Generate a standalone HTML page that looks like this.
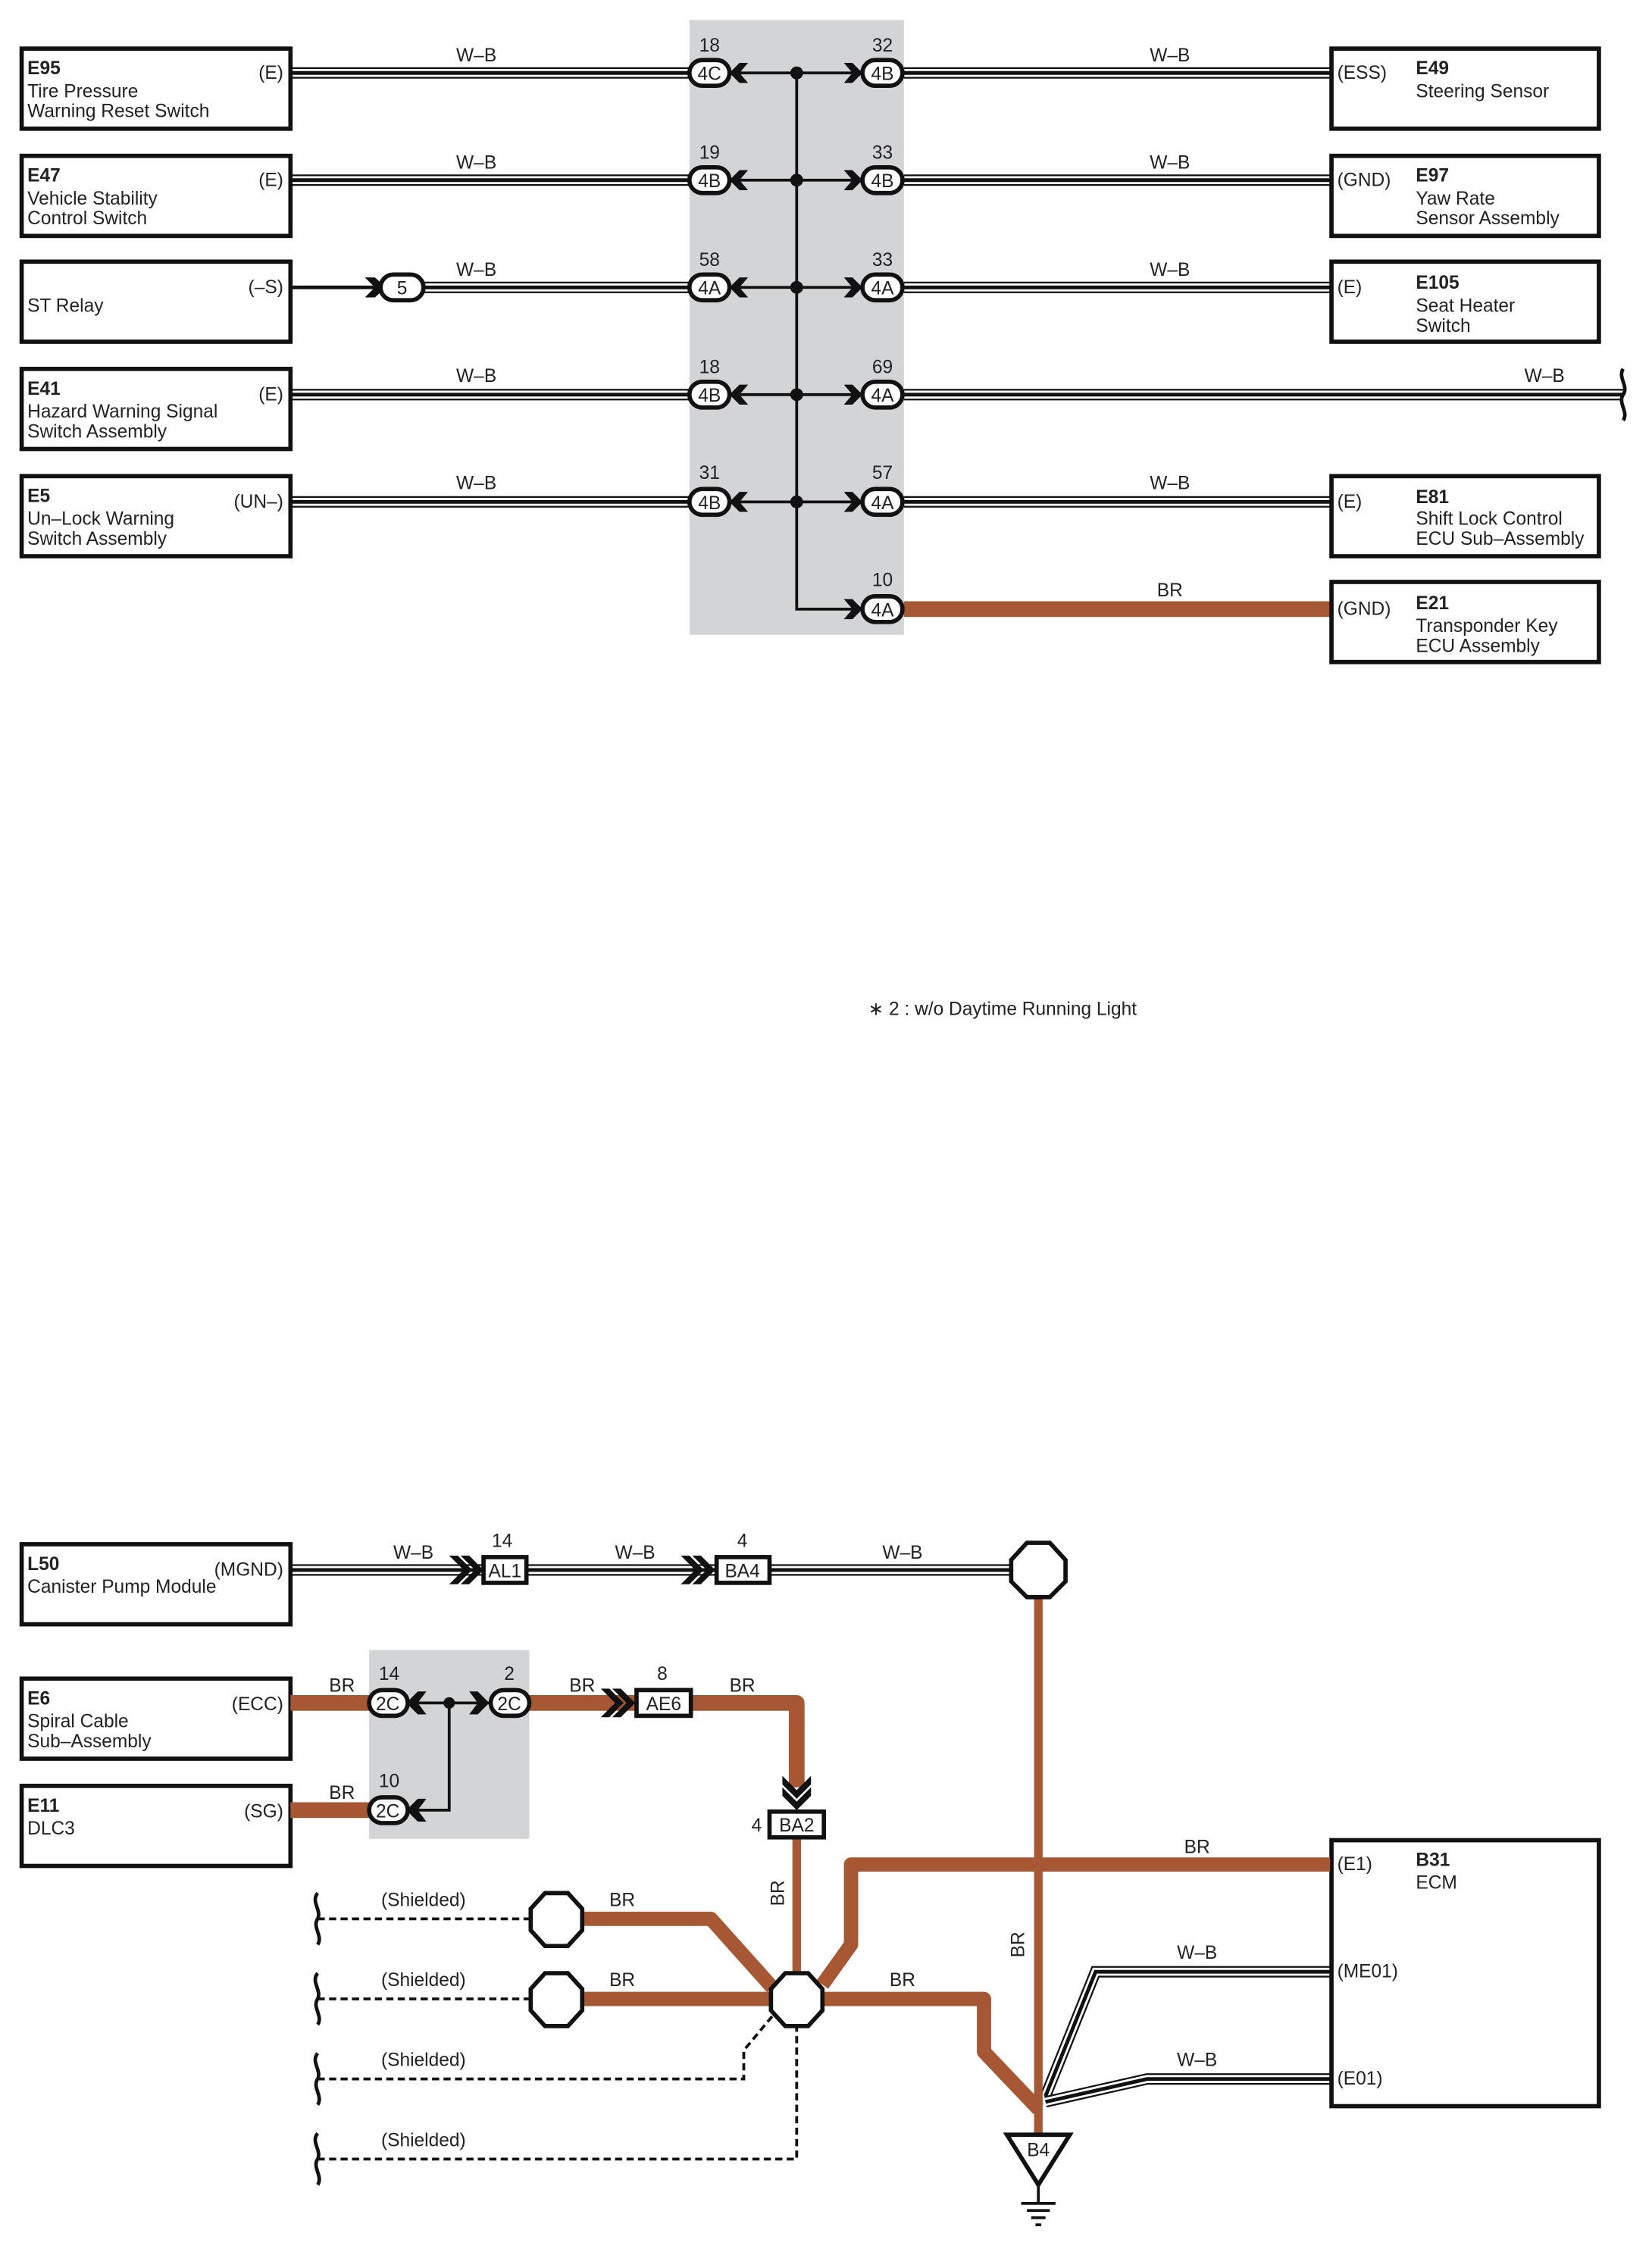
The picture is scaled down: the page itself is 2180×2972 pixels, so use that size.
<!DOCTYPE html>
<html><head><meta charset="utf-8"><style>
html,body{margin:0;padding:0;background:#fff}
svg{display:block}
text{font-family:"Liberation Sans",sans-serif;font-size:13px;fill:#222}
.b{font-weight:bold}
.o{stroke:#111;stroke-width:8;fill:none}
.w{stroke:#fff;stroke-width:5.6;fill:none}
.i{stroke:#111;stroke-width:2.6;fill:none}
.br{stroke:#a65835;fill:none;stroke-linejoin:round}
.box{fill:#fff;stroke:#111;stroke-width:3}
.ov{fill:#fff;stroke:#111;stroke-width:3}
.dash{stroke:#111;stroke-width:2;fill:none;stroke-dasharray:5 3}
</style></head><body>
<svg width="2180" height="2972" viewBox="0 0 1155 1575" xmlns="http://www.w3.org/2000/svg">
<defs>
<path id="t1" d="M203 51H484M632 51H930"/>
<path id="t2" d="M203 126H484M632 126H930"/>
<path id="t3" d="M296 201H484M632 201H930"/>
<path id="t4" d="M203 276H484M632 276H1135"/>
<path id="t5" d="M203 351H484M632 351H930"/>
<path id="b1" d="M203 1098H712"/>
<path id="b2" d="M930 1379H766L731 1466"/>
<path id="b3" d="M930 1454H802L731 1470"/>
</defs>
<rect x="482" y="14" width="150" height="430" fill="#d3d4d6"/>
<rect x="258" y="1154" width="112" height="132" fill="#d3d4d6"/>

<g>
<use href="#t1" class="o"/><use href="#t1" class="w"/><use href="#t1" class="i"/>
<use href="#t2" class="o"/><use href="#t2" class="w"/><use href="#t2" class="i"/>
<use href="#t3" class="o"/><use href="#t3" class="w"/><use href="#t3" class="i"/>
<use href="#t4" class="o"/><use href="#t4" class="w"/><use href="#t4" class="i"/>
<use href="#t5" class="o"/><use href="#t5" class="w"/><use href="#t5" class="i"/>
</g>
<path d="M203 201H266" stroke="#111" stroke-width="2.5"/>
<polygon points="270,201 262,194 255,194 262,201 255,208 262,208" fill="#111"/>
<rect x="266" y="192" width="30" height="18" rx="9" class="ov"/><text x="281" y="206" text-anchor="middle">5</text>
<path d="M1135 258c-4 6 4 12 0 18c-4 6 4 12 0 18" stroke="#111" stroke-width="2.5" fill="none"/>

<!-- bus -->
<path d="M511 51H602M511 126H602M511 201H602M511 276H602M511 351H602M557 51V426H602" stroke="#111" stroke-width="2" fill="none"/>
<g fill="#111">
<circle cx="557" cy="51" r="4.5"/><circle cx="557" cy="126" r="4.5"/><circle cx="557" cy="201" r="4.5"/><circle cx="557" cy="276" r="4.5"/><circle cx="557" cy="351" r="4.5"/>
</g>
<g fill="#111">
<polygon points="510,51 517,44 523,44 517,51 523,58 517,58"/>
<polygon points="510,126 517,119 523,119 517,126 523,133 517,133"/>
<polygon points="510,201 517,194 523,194 517,201 523,208 517,208"/>
<polygon points="510,276 517,269 523,269 517,276 523,283 517,283"/>
<polygon points="510,351 517,344 523,344 517,351 523,358 517,358"/>
<polygon points="603,51 596,44 590,44 596,51 590,58 596,58"/>
<polygon points="603,126 596,119 590,119 596,126 590,133 596,133"/>
<polygon points="603,201 596,194 590,194 596,201 590,208 596,208"/>
<polygon points="603,276 596,269 590,269 596,276 590,283 596,283"/>
<polygon points="603,351 596,344 590,344 596,351 590,358 596,358"/>
<polygon points="603,426 596,419 590,419 596,426 590,433 596,433"/>
</g>
<path d="M632 426H930" class="br" stroke-width="11"/>
<g>
<rect x="482" y="42" width="28" height="18" rx="9" class="ov"/><text x="496" y="56" text-anchor="middle">4C</text>
<rect x="482" y="117" width="28" height="18" rx="9" class="ov"/><text x="496" y="131" text-anchor="middle">4B</text>
<rect x="482" y="192" width="28" height="18" rx="9" class="ov"/><text x="496" y="206" text-anchor="middle">4A</text>
<rect x="482" y="267" width="28" height="18" rx="9" class="ov"/><text x="496" y="281" text-anchor="middle">4B</text>
<rect x="482" y="342" width="28" height="18" rx="9" class="ov"/><text x="496" y="356" text-anchor="middle">4B</text>
<rect x="603" y="42" width="28" height="18" rx="9" class="ov"/><text x="617" y="56" text-anchor="middle">4B</text>
<rect x="603" y="117" width="28" height="18" rx="9" class="ov"/><text x="617" y="131" text-anchor="middle">4B</text>
<rect x="603" y="192" width="28" height="18" rx="9" class="ov"/><text x="617" y="206" text-anchor="middle">4A</text>
<rect x="603" y="267" width="28" height="18" rx="9" class="ov"/><text x="617" y="281" text-anchor="middle">4A</text>
<rect x="603" y="342" width="28" height="18" rx="9" class="ov"/><text x="617" y="356" text-anchor="middle">4A</text>
<rect x="603" y="417" width="28" height="18" rx="9" class="ov"/><text x="617" y="431" text-anchor="middle">4A</text>
</g>
<g text-anchor="middle">
<text x="496" y="36">18</text><text x="496" y="111">19</text><text x="496" y="186">58</text><text x="496" y="261">18</text><text x="496" y="335">31</text>
<text x="617" y="36">32</text><text x="617" y="111">33</text><text x="617" y="186">33</text><text x="617" y="261">69</text><text x="617" y="335">57</text><text x="617" y="410">10</text>
<text x="333" y="43">W–B</text><text x="333" y="118">W–B</text><text x="333" y="193">W–B</text><text x="333" y="267">W–B</text><text x="333" y="342">W–B</text>
<text x="818" y="43">W–B</text><text x="818" y="118">W–B</text><text x="818" y="193">W–B</text><text x="1080" y="267">W–B</text><text x="818" y="342">W–B</text><text x="818" y="417">BR</text>
</g>

<rect x="15" y="34" width="188" height="56" class="box"/>
<text x="19" y="52" class="b">E95</text><text x="19" y="68">Tire Pressure</text><text x="19" y="82">Warning Reset Switch</text><text x="198" y="55" text-anchor="end">(E)</text>
<rect x="15" y="109" width="188" height="56" class="box"/>
<text x="19" y="127" class="b">E47</text><text x="19" y="143">Vehicle Stability</text><text x="19" y="157">Control Switch</text><text x="198" y="130" text-anchor="end">(E)</text>
<rect x="15" y="183" width="188" height="56" class="box"/>
<text x="19" y="218">ST Relay</text><text x="198" y="205" text-anchor="end">(–S)</text>
<rect x="15" y="258" width="188" height="56" class="box"/>
<text x="19" y="276" class="b">E41</text><text x="19" y="292">Hazard Warning Signal</text><text x="19" y="306">Switch Assembly</text><text x="198" y="280" text-anchor="end">(E)</text>
<rect x="15" y="333" width="188" height="56" class="box"/>
<text x="19" y="351" class="b">E5</text><text x="19" y="367">Un–Lock Warning</text><text x="19" y="381">Switch Assembly</text><text x="198" y="355" text-anchor="end">(UN–)</text>
<rect x="931" y="34" width="187" height="56" class="box"/>
<text x="935" y="55">(ESS)</text><text x="990" y="52" class="b">E49</text><text x="990" y="68">Steering Sensor</text>
<rect x="931" y="109" width="187" height="56" class="box"/>
<text x="935" y="130">(GND)</text><text x="990" y="127" class="b">E97</text><text x="990" y="143">Yaw Rate</text><text x="990" y="157">Sensor Assembly</text>
<rect x="931" y="183" width="187" height="56" class="box"/>
<text x="935" y="205">(E)</text><text x="990" y="202" class="b">E105</text><text x="990" y="218">Seat Heater</text><text x="990" y="232">Switch</text>
<rect x="931" y="333" width="187" height="56" class="box"/>
<text x="935" y="355">(E)</text><text x="990" y="352" class="b">E81</text><text x="990" y="367">Shift Lock Control</text><text x="990" y="381">ECU Sub–Assembly</text>
<rect x="931" y="407" width="187" height="56" class="box"/>
<text x="935" y="430">(GND)</text><text x="990" y="426" class="b">E21</text><text x="990" y="442">Transponder Key</text><text x="990" y="456">ECU Assembly</text>

<text x="607" y="710">∗ 2 : w/o Daytime Running Light</text>

<use href="#b1" class="o"/><use href="#b1" class="w"/><use href="#b1" class="i"/>
<use href="#b2" class="o"/><use href="#b2" class="w"/><use href="#b2" class="i"/>
<use href="#b3" class="o"/><use href="#b3" class="w"/><use href="#b3" class="i"/>
<g fill="#111">
<polygon points="338,1098 328,1088 322,1088 332,1098 322,1108 328,1108"/>
<polygon points="330,1098 320,1088 314,1088 324,1098 314,1108 320,1108"/>
<polygon points="500,1098 490,1088 484,1088 494,1098 484,1108 490,1108"/>
<polygon points="492,1098 482,1088 476,1088 486,1098 476,1108 482,1108"/>
</g>
<rect x="338" y="1089" width="30" height="18" class="box"/><text x="353" y="1103" text-anchor="middle">AL1</text>
<rect x="501" y="1089" width="37" height="18" class="box"/><text x="519" y="1103" text-anchor="middle">BA4</text>
<text x="351" y="1082" text-anchor="middle">14</text><text x="519" y="1082" text-anchor="middle">4</text>
<text x="289" y="1090" text-anchor="middle">W–B</text><text x="444" y="1090" text-anchor="middle">W–B</text><text x="631" y="1090" text-anchor="middle">W–B</text>

<rect x="15" y="1080" width="188" height="56" class="box"/>
<text x="19" y="1098" class="b">L50</text><text x="19" y="1114">Canister Pump Module</text><text x="198" y="1102" text-anchor="end">(MGND)</text>
<rect x="15" y="1174" width="188" height="56" class="box"/>
<text x="19" y="1192" class="b">E6</text><text x="19" y="1208">Spiral Cable</text><text x="19" y="1222">Sub–Assembly</text><text x="198" y="1196" text-anchor="end">(ECC)</text>
<rect x="15" y="1249" width="188" height="56" class="box"/>
<text x="19" y="1267" class="b">E11</text><text x="19" y="1283">DLC3</text><text x="198" y="1271" text-anchor="end">(SG)</text>
<rect x="931" y="1287" width="187" height="186" class="box"/>
<text x="935" y="1308">(E1)</text><text x="990" y="1305" class="b">B31</text><text x="990" y="1321">ECM</text>
<text x="935" y="1383">(ME01)</text><text x="935" y="1458">(E01)</text>
<text x="837" y="1370" text-anchor="middle">W–B</text><text x="837" y="1445" text-anchor="middle">W–B</text>

<path d="M203 1191H258M370 1191H557V1250" class="br" stroke-width="11"/>
<path d="M203 1266H258" class="br" stroke-width="11"/>
<path d="M557 1285V1380" class="br" stroke-width="6"/>
<path d="M726 1115V1492" class="br" stroke-width="6"/>
<path d="M930 1304H595V1360L575 1388" class="br" stroke-width="10"/>
<path d="M408 1342H497L540 1390" class="br" stroke-width="10"/>
<path d="M408 1398H540" class="br" stroke-width="10"/>
<path d="M576 1398H688V1435L726 1475" class="br" stroke-width="10"/>
<path d="M286 1191H344M314 1191V1266H286" stroke="#111" stroke-width="2" fill="none"/>
<circle cx="314" cy="1191" r="4" fill="#111"/>
<g fill="#111">
<polygon points="284,1191 292,1183 298,1183 292,1191 298,1199 292,1199"/>
<polygon points="284,1266 292,1258 298,1258 292,1266 298,1274 292,1274"/>
<polygon points="342,1191 334,1183 328,1183 334,1191 328,1199 334,1199"/>
<polygon points="444,1191 434,1181 428,1181 438,1191 428,1201 434,1201"/>
<polygon points="436,1191 426,1181 420,1181 430,1191 420,1201 426,1201"/>
<polygon points="557,1266 547,1256 547,1250 557,1260 567,1250 567,1256"/>
<polygon points="557,1258 547,1248 547,1242 557,1252 567,1242 567,1248"/>
</g>
<rect x="258" y="1182" width="27" height="18" rx="9" class="ov"/><text x="271" y="1196" text-anchor="middle">2C</text>
<rect x="343" y="1182" width="27" height="18" rx="9" class="ov"/><text x="356" y="1196" text-anchor="middle">2C</text>
<rect x="258" y="1257" width="27" height="18" rx="9" class="ov"/><text x="271" y="1271" text-anchor="middle">2C</text>
<rect x="445" y="1182" width="38" height="18" class="box"/><text x="464" y="1196" text-anchor="middle">AE6</text>
<rect x="538" y="1267" width="38" height="18" class="box"/><text x="557" y="1281" text-anchor="middle">BA2</text>
<g text-anchor="middle">
<text x="272" y="1175">14</text><text x="356" y="1175">2</text><text x="272" y="1250">10</text><text x="463" y="1175">8</text><text x="529" y="1281">4</text>
<text x="239" y="1183">BR</text><text x="239" y="1258">BR</text><text x="407" y="1183">BR</text><text x="519" y="1183">BR</text>
<text x="837" y="1296">BR</text><text x="435" y="1333">BR</text><text x="435" y="1389">BR</text><text x="631" y="1389">BR</text>
</g>
<text transform="translate(548,1324) rotate(-90)" text-anchor="middle">BR</text>
<text transform="translate(716,1360) rotate(-90)" text-anchor="middle">BR</text>

<g fill="#fff" stroke="#111" stroke-width="3">
<polygon points="718,1079 734,1079 745,1091 745,1106 734,1117 718,1117 707,1106 707,1091"/>
<polygon points="381,1324 397,1324 407,1335 407,1350 397,1361 381,1361 371,1350 371,1335"/>
<polygon points="381,1380 397,1380 407,1391 407,1406 397,1417 381,1417 371,1406 371,1391"/>
<polygon points="549,1380 565,1380 575,1391 575,1406 565,1417 549,1417 539,1406 539,1391"/>
</g>
<path d="M222 1342H370M222 1398H370M222 1454H520V1434L540 1410M222 1510H557V1418" class="dash"/>
<g stroke="#111" stroke-width="2.5" fill="none">
<path d="M222 1324c-5 6 3 12 0 18c-4 6 4 12 0 18"/>
<path d="M222 1380c-5 6 3 12 0 18c-4 6 4 12 0 18"/>
<path d="M222 1436c-5 6 3 12 0 18c-4 6 4 12 0 18"/>
<path d="M222 1492c-5 6 3 12 0 18c-4 6 4 12 0 18"/>
</g>
<g text-anchor="middle"><text x="296" y="1333">(Shielded)</text><text x="296" y="1389">(Shielded)</text><text x="296" y="1445">(Shielded)</text><text x="296" y="1501">(Shielded)</text></g>
<polygon points="704,1493 748,1493 726,1528" fill="#fff" stroke="#111" stroke-width="3"/>
<text x="726" y="1508" text-anchor="middle">B4</text>
<path d="M726 1528V1540M714 1541H738M718 1546H734M721 1551H731M724 1556H728" stroke="#111" stroke-width="2"/>
</svg>
</body></html>
